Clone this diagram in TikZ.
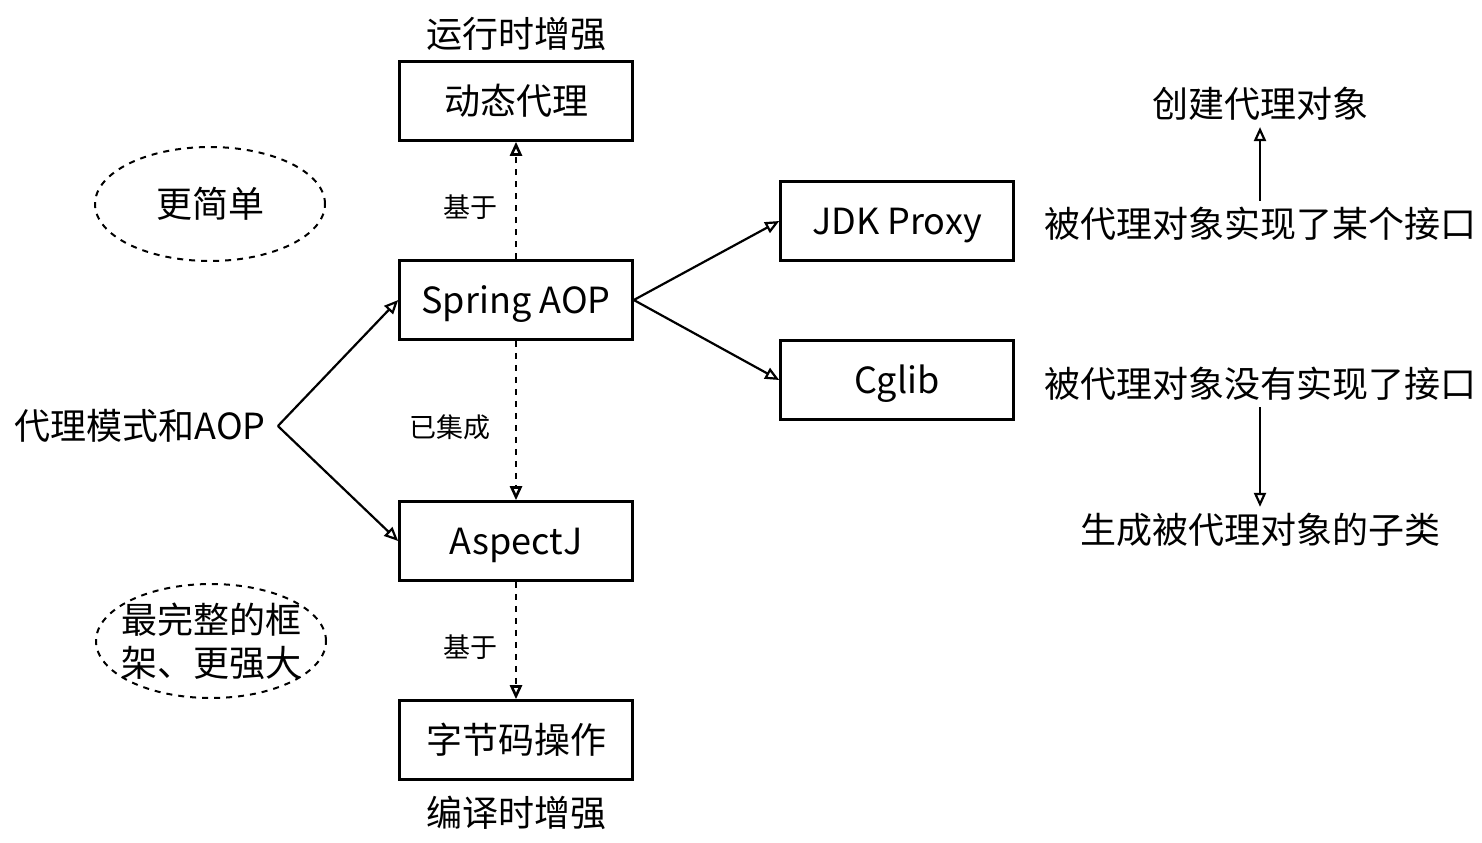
\documentclass[tikz,border=0pt]{standalone}
\usepackage{fontspec}
\setmainfont{Noto Sans CJK SC}
\usetikzlibrary{arrows.meta, shapes.geometric}

\tikzset{
  box/.style={draw, line width=1.3pt, minimum width=116.5pt, minimum height=39.5pt,
    inner sep=0pt, text height=1.35em, text depth=0em, font=\fontsize{18}{21}\selectfont},
  note/.style={inner sep=1pt, font=\fontsize{18}{21}\selectfont},
  small/.style={inner sep=1pt, font=\fontsize{13.5}{16}\selectfont},
  cloud/.style={ellipse, draw, dashed, line width=1pt, inner sep=0pt,
    minimum width=115pt, minimum height=57pt, font=\fontsize{18}{21.5}\selectfont},
  arr/.style={-{Triangle[open, length=7pt, width=6pt]}, line width=1.1pt},
  basedon/.style={arr, dashed, line width=1.3pt}
}

\begin{document}
\begin{tikzpicture}[x=0.5pt, y=-0.5pt]
  \useasboundingbox (0,0) rectangle (1482,842);

  % Middle column
  \node[box] (dyn)    at (516,101) {动态代理};
  \node[box] (spring) at (516,300) {Spring AOP};
  \node[box] (aspect) at (516,541) {AspectJ};
  \node[box] (bytec)  at (516,740) {字节码操作};
  \node[note] (runtime) at (516,34)  {运行时增强};
  \node[note] (compile) at (516,813) {编译时增强};

  % Right column
  \node[box] (jdk)   at (897,221) {JDK Proxy};
  \node[box] (cglib) at (897,380) {Cglib};
  \node[note] (iface)   at (1260,224) {被代理对象实现了某个接口};
  \node[note] (create)  at (1260,104) {创建代理对象};
  \node[note] (noiface) at (1260,384) {被代理对象没有实现了接口};
  \node[note] (subcls)  at (1260,530) {生成被代理对象的子类};

  % Left side
  \node[note, inner sep=6pt] (topic) at (140,426) {代理模式和AOP};
  \node[cloud] (simple) at (210,204) {更简单};
  \node[cloud, align=left, inner xsep=-5pt] (full) at (211,641) {最完整的框\\架、更强大};

  % Connectors
  \draw[arr] (topic.east) -- (spring.west);
  \draw[arr] (topic.east) -- (aspect.west);
  \draw[arr] (spring.east) -- (jdk.west);
  \draw[arr] (spring.east) -- (cglib.west);
  \draw[arr, shorten <=2pt, shorten >=2pt] (iface.north) -- (create.south);
  \draw[arr, shorten <=2pt, shorten >=2pt] (noiface.south) -- (subcls.north);

  \draw[basedon] (spring.north) -- (dyn.south);
  \draw[basedon] (spring.south) -- (aspect.north);
  \draw[basedon] (aspect.south) -- (bytec.north);
  \node[small] (base1) at (470,207) {基于};
  \node[small] (integ) at (450,427) {已集成};
  \node[small] (base2) at (470,647) {基于};
\end{tikzpicture}
\end{document}
